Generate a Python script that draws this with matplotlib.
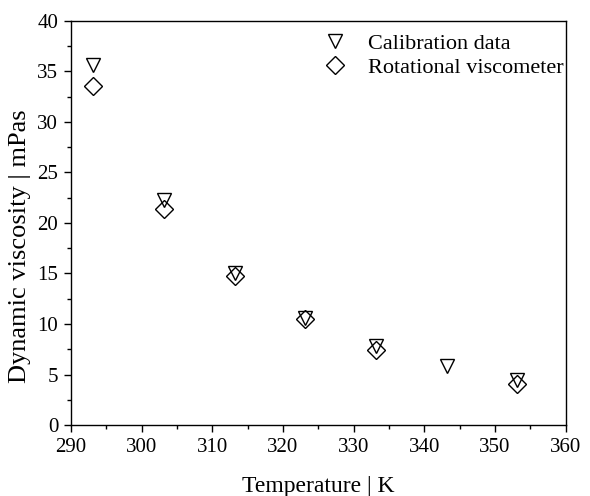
import numpy as np
import matplotlib.pyplot as plt
from matplotlib.ticker import MultipleLocator

            #### DATA ####
temp_cal = [293.15, 303.15, 313.15, 323.15, 333.15, 343.15, 353.15]
visc_cal = [35.6, 22.3, 15.0, 10.6, 7.8, 5.85, 4.5]
temp_rot = [293.15, 303.15, 313.15, 323.15, 333.15, 353.15]
visc_rot = [33.6, 21.4, 14.8, 10.45, 7.45, 4.1]

plt.rcParams['font.family'] = ['Liberation Serif', 'DejaVu Serif']

            #### PLOT ####
fig = plt.figure(figsize=(5.9, 4.96), dpi=100)
ax = fig.add_axes([0.120, 0.143, 0.839, 0.815])

ax.plot(temp_cal, visc_cal, linestyle='none', marker='v', markersize=10,
        markerfacecolor='none', markeredgecolor='black', markeredgewidth=1.0,
        label='Calibration data')
ax.plot(temp_rot, visc_rot, linestyle='none', marker='D', markersize=9,
        markerfacecolor='none', markeredgecolor='black', markeredgewidth=1.0,
        label='Rotational viscometer')

ax.set_xlim(290, 360)
ax.set_ylim(0, 40)
ax.xaxis.set_major_locator(MultipleLocator(10))
ax.xaxis.set_minor_locator(MultipleLocator(5))
ax.yaxis.set_major_locator(MultipleLocator(5))
ax.yaxis.set_minor_locator(MultipleLocator(2.5))
ax.tick_params(which='both', direction='out', top=False, right=False,
               labelsize=15, width=1.0, pad=4)
ax.tick_params(which='major', length=5)
ax.tick_params(which='minor', length=3)
for s in ax.spines.values():
    s.set_linewidth(1.0)

ax.set_xlabel('Temperature | K', fontsize=17, labelpad=14)
ax.set_ylabel('Dynamic viscosity | mPas', fontsize=19)
ax.yaxis.set_label_coords(-0.08, 0.443)

ax.legend(loc='upper right', bbox_to_anchor=(1.0, 0.975), frameon=False,
          fontsize=16, handletextpad=0.73, borderaxespad=0.0, borderpad=0.1,
          labelspacing=0.15, handlelength=1.5)

fig.savefig('out.png', dpi=100)
